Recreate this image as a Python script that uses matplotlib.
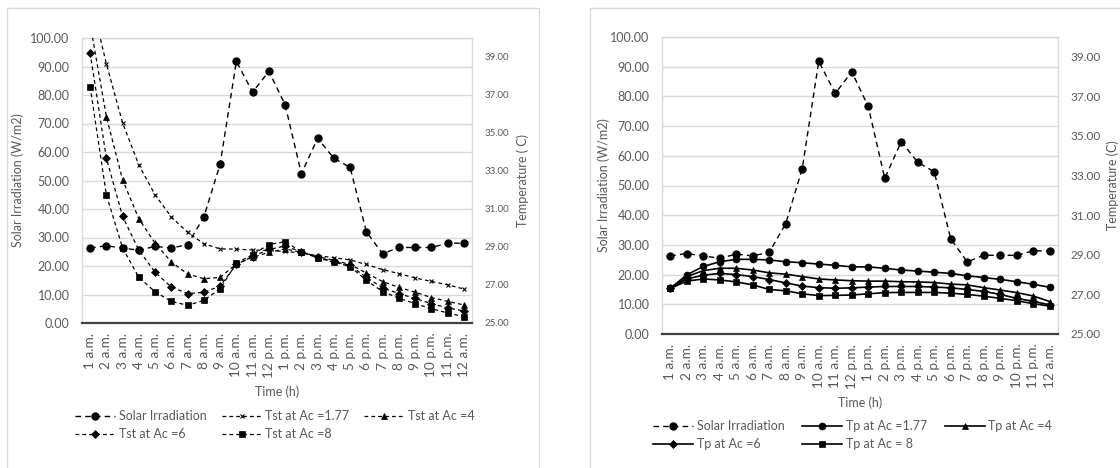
import matplotlib
matplotlib.use("Agg")
import matplotlib.pyplot as plt
from matplotlib.patches import Rectangle

plt.rcParams['font.family'] = ['Lato', 'DejaVu Sans']

# ---- data -------------------------------------------------------------
hours = ["1 a.m.", "2 a.m.", "3 a.m.", "4 a.m.", "5 a.m.", "6 a.m.", "7 a.m.",
         "8 a.m.", "9 a.m.", "10 a.m.", "11 a.m.", "12 p.m.", "1 p.m.", "2 p.m.",
         "3 p.m.", "4 p.m.", "5 p.m.", "6 p.m.", "7 p.m.", "8 p.m.", "9 p.m.",
         "10 p.m.", "11 p.m.", "12 a.m."]

# solar irradiation (W/m2)
solar = [26.3, 27.1, 26.3, 25.5, 26.9, 26.3, 27.5, 37.2, 55.7, 91.8, 81.0, 88.3,
         76.6, 52.4, 64.8, 57.8, 54.6, 32.0, 24.3, 26.5, 26.5, 26.5, 28.0, 28.0]

# storage temperature Tst (C) for several collector areas
tst_177 = [42.25, 38.64, 35.53, 33.31, 31.74, 30.58, 29.77, 29.17, 28.90, 28.89,
           28.84, 28.81, 28.77, 28.68, 28.54, 28.44, 28.32, 28.08, 27.81, 27.60,
           27.37, 27.19, 27.01, 26.79]
tst_4 = [40.75, 35.86, 32.53, 30.48, 29.20, 28.21, 27.58, 27.33, 27.40, 28.11,
         28.45, 28.72, 28.90, 28.72, 28.50, 28.30, 28.08, 27.63, 27.18, 26.88,
         26.62, 26.34, 26.14, 25.95]
tst_6 = [39.22, 33.67, 30.61, 28.83, 27.67, 26.89, 26.55, 26.61, 26.95, 28.08,
         28.50, 28.87, 29.05, 28.75, 28.45, 28.24, 28.03, 27.40, 26.85, 26.55,
         26.29, 26.02, 25.80, 25.63]
tst_8 = [37.44, 31.74, 28.95, 27.40, 26.64, 26.14, 25.93, 26.19, 26.80, 28.15,
         28.60, 29.13, 29.28, 28.75, 28.42, 28.21, 27.97, 27.25, 26.65, 26.31,
         26.02, 25.75, 25.53, 25.33]

# plate temperature Tp (C) for several collector areas
tp_177 = [27.30, 27.99, 28.41, 28.65, 28.77, 28.77, 28.74, 28.65, 28.60, 28.53,
          28.47, 28.39, 28.39, 28.32, 28.23, 28.18, 28.12, 28.06, 27.94, 27.85,
          27.76, 27.64, 27.51, 27.36]
tp_4 = [27.30, 27.90, 28.20, 28.32, 28.32, 28.23, 28.09, 28.02, 27.90, 27.78,
        27.73, 27.69, 27.67, 27.67, 27.64, 27.63, 27.60, 27.52, 27.48, 27.34,
        27.22, 27.09, 26.92, 26.64]
tp_6 = [27.30, 27.78, 27.97, 28.06, 28.00, 27.90, 27.75, 27.58, 27.42, 27.34,
        27.31, 27.33, 27.37, 27.40, 27.40, 27.40, 27.37, 27.33, 27.25, 27.15,
        27.00, 26.80, 26.65, 26.47]
tp_8 = [27.30, 27.67, 27.78, 27.73, 27.63, 27.48, 27.25, 27.18, 27.03, 26.94,
        26.95, 26.97, 27.03, 27.09, 27.10, 27.10, 27.10, 27.06, 27.00, 26.91,
        26.80, 26.68, 26.53, 26.41]

irr_ticks = [0, 10, 20, 30, 40, 50, 60, 70, 80, 90, 100]
temp_ticks = [25, 27, 29, 31, 33, 35, 37, 39]

# ---- styling ----------------------------------------------------------
W, H = 1120, 468
GRID = '#d9d9d9'
TXT = '#595959'
AXIS = '#404040'


def fx(x):
    return x / W


def fy(y):
    return 1 - y / H


fig = plt.figure(figsize=(W / 100, H / 100), dpi=100)

# chart frames
fig.add_artist(Rectangle((fx(7), fy(475)), fx(532), (475 - 8) / H,
                         transform=fig.transFigure, fill=False,
                         edgecolor=GRID, linewidth=1.0))
fig.add_artist(Rectangle((fx(590), fy(475)), fx(540), (475 - 8) / H,
                         transform=fig.transFigure, fill=False,
                         edgecolor=GRID, linewidth=1.0))


def panel(rect_px, series, solid, marker_set, right_fs, names, legend_xy,
          ylab_x, tlab_x, tlab, time_y, legend_spacing):
    x0, y0, x1, y1 = rect_px
    ax = fig.add_axes([fx(x0), fy(y1), (x1 - x0) / W, (y1 - y0) / H])
    xs = list(range(len(hours)))
    ax.set_xlim(-0.5, len(hours) - 0.5)
    ax.set_ylim(0, 100)
    ax.set_yticks(irr_ticks)
    ax.set_yticklabels([f"{v:.2f}" for v in irr_ticks])
    ax.set_xticks(xs)
    ax.set_xticklabels(hours, rotation=90)
    ax.grid(axis='y', color=GRID, linewidth=1.0, zorder=0)
    ax.set_axisbelow(True)
    ax.tick_params(axis='y', length=0, pad=9, labelsize=9, labelcolor=TXT)
    ax.tick_params(axis='x', length=0, pad=7, labelsize=9.8, labelcolor=TXT)
    for s in ('left', 'right', 'top'):
        ax.spines[s].set_color(GRID)
        ax.spines[s].set_linewidth(1.0)
    ax.spines['bottom'].set_color(AXIS)
    ax.spines['bottom'].set_linewidth(1.6)

    h_solar, = ax.plot(xs, solar, color='black', linewidth=1.0,
                       dashes=(4, 3), marker='o', markersize=5,
                       label='Solar Irradiation', zorder=3)

    ax2 = ax.twinx()
    ax2.set_ylim(25, 40)
    ax2.set_yticks(temp_ticks)
    ax2.set_yticklabels([f"{v:.2f}" for v in temp_ticks])
    ax2.tick_params(axis='y', length=0, pad=9, labelsize=right_fs,
                    labelcolor=TXT)
    for s in ax2.spines.values():
        s.set_visible(False)

    handles = [h_solar]
    for vals, (mk, ms, mew), name in zip(series, marker_set, names):
        if solid:
            h, = ax2.plot(xs, vals, color='black', linewidth=1.2, marker=mk,
                          markersize=ms, markeredgewidth=mew,
                          label=name, zorder=3)
        else:
            h, = ax2.plot(xs, vals, color='black', linewidth=0.9,
                          dashes=(3, 2.5), marker=mk, markersize=ms,
                          markeredgewidth=mew, label=name, zorder=3)
        handles.append(h)

    fig.text(fx(ylab_x), fy((y0 + y1) / 2), 'Solar Irradiation (W/m2)',
             rotation=90, ha='center', va='center', fontsize=9, color=TXT)
    fig.text(fx(tlab_x), fy((y0 + y1) / 2), tlab,
             rotation=90, ha='center', va='center', fontsize=9, color=TXT)
    fig.text(fx((x0 + x1) / 2), fy(time_y), 'Time (h)',
             ha='center', va='center', fontsize=9, color=TXT)

    # legend reads row by row: solar, Ac1.77, Ac4 / Ac6, Ac8
    order = [0, 3, 1, 4, 2]
    hs = [handles[i] for i in order]
    fig.legend(handles=hs, labels=[h.get_label() for h in hs],
               loc='upper left',
               bbox_to_anchor=(fx(legend_xy[0]), fy(legend_xy[1])),
               ncol=3, frameon=False, fontsize=9, labelcolor=TXT,
               handlelength=3.2, handletextpad=0.3,
               columnspacing=legend_spacing,
               labelspacing=0.5, borderpad=0, borderaxespad=0)
    return ax, ax2


dashed_markers = [('x', 3.5, 0.8), ('^', 5, 0.5), ('D', 3.8, 0.5), ('s', 5, 0.5)]
solid_markers = [('o', 5, 0.5), ('^', 5, 0.5), ('D', 3.8, 0.5), ('s', 5, 0.5)]

panel((82, 38, 472, 323), [tst_177, tst_4, tst_6, tst_8], False,
      dashed_markers, 7,
      ['Tst at Ac =1.77', 'Tst at Ac =4', 'Tst at Ac =6', 'Tst at Ac =8'],
      (75, 410), 18, 523, 'Temperature ( C)', 392, 1.2)

panel((662, 37, 1058, 334), [tp_177, tp_4, tp_6, tp_8], True,
      solid_markers, 8.5,
      ['Tp at Ac =1.77', 'Tp at Ac =4', 'Tp at Ac =6', 'Tp at Ac = 8'],
      (653, 420), 604, 1113, 'Temperature (C)', 403, 1.4)

fig.savefig('out.png', dpi=100)
